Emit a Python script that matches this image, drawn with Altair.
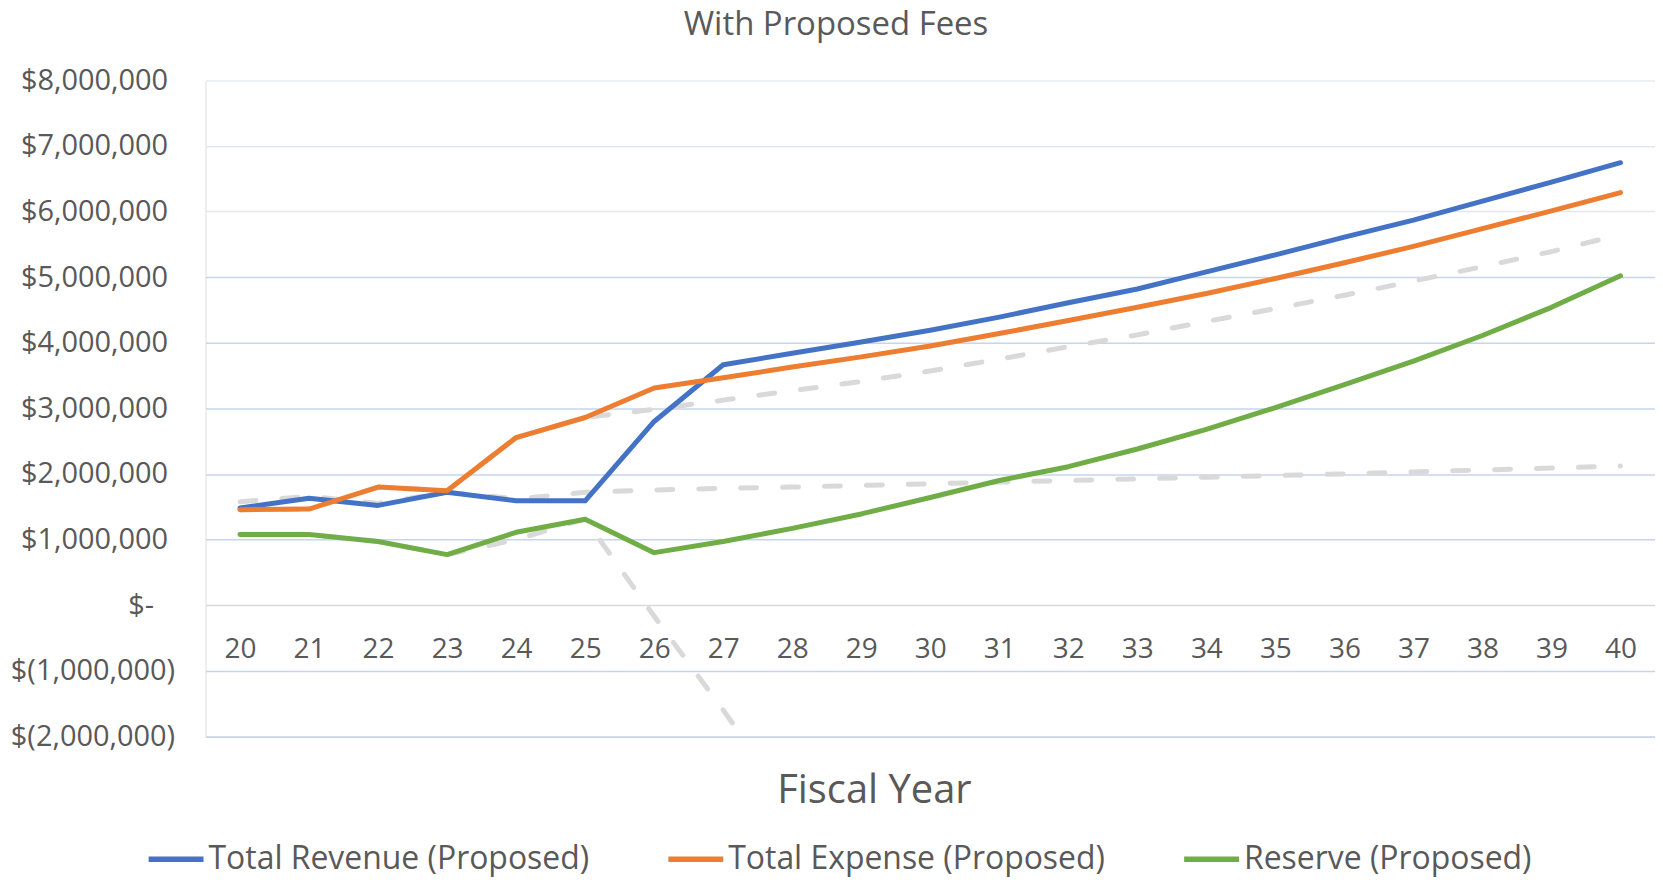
import altair as alt
import pandas as pd

# ---- data (millions of dollars) ----
years = list(range(20, 41))

rev_prop = [1.48, 1.63, 1.52, 1.72, 1.59, 1.59, 2.80, 3.665, 3.84, 4.01, 4.19,
            4.39, 4.61, 4.82, 5.08, 5.34, 5.61, 5.87, 6.16, 6.45, 6.745]
exp_prop = [1.455, 1.465, 1.80, 1.745, 2.555, 2.86, 3.31, 3.465, 3.63, 3.785, 3.95,
            4.14, 4.34, 4.54, 4.75, 4.98, 5.22, 5.47, 5.74, 6.01, 6.29]
res_prop = [1.075, 1.075, 0.97, 0.77, 1.11, 1.31, 0.80, 0.97, 1.17, 1.39, 1.64,
            1.90, 2.11, 2.38, 2.68, 3.01, 3.36, 3.72, 4.11, 4.54, 5.02]

rev_cur = [1.575, 1.66, 1.55, 1.72, 1.62, 1.72, 1.755, 1.78, 1.80, 1.825, 1.85,
           1.875, 1.90, 1.925, 1.95, 1.975, 2.00, 2.03, 2.06, 2.09, 2.12]
exp_cur = [1.455, 1.465, 1.80, 1.745, 2.555, 2.86, 2.985, 3.125, 3.27, 3.41, 3.57,
           3.75, 3.94, 4.12, 4.325, 4.52, 4.725, 4.94, 5.16, 5.39, 5.65]
res_cur = [1.075, 1.075, 0.97, 0.77, 1.00, 1.31, -0.17, -1.60, -3.10]

prop_names = ["Total Revenue (Proposed)", "Total Expense (Proposed)", "Reserve (Proposed)"]
prop_colors = ["#4472C4", "#ED7D31", "#70AD47"]
cur_names = ["Total Revenue (Current)", "Total Expense (Current)", "Reserve (Current)"]

y_ticks = [-2e6, -1e6, 0, 1e6, 2e6, 3e6, 4e6, 5e6, 6e6, 7e6, 8e6]


def rows(names, series):
    out = []
    for n, vals in zip(names, series):
        for yr, v in zip(years, vals):
            out.append({"year": str(yr), "series": n, "value": v * 1e6})
    return out


df_prop = pd.DataFrame(rows(prop_names, [rev_prop, exp_prop, res_prop]))
df_cur = pd.DataFrame(rows(cur_names, [rev_cur, exp_cur, res_cur]))

FONT = "Open Sans"
TXT = "#595959"
W, H = 1453, 657.5
zero_off = -H * 2 / 10

label_expr = (
    "datum.value == 0 ? '$-' : "
    "(datum.value < 0 ? '$(' + format(-datum.value, ',') + ')' : "
    "'$' + format(datum.value, ','))"
)

x_enc = alt.X(
    "year:O",
    sort=[str(y) for y in years],
    axis=alt.Axis(
        title="Fiscal Year",
        labelAngle=0,
        labelFont=FONT,
        labelFontSize=28,
        labelColor=TXT,
        labelBaseline="middle",
        labelPadding=45,
        ticks=False,
        tickSize=0,
        domain=False,
        offset=zero_off,
        titleFont=FONT,
        titleFontSize=40,
        titleFontWeight="normal",
        titleColor=TXT,
        titleX=670,
        titleY=185.5,
        titleAlign="center",
        titleBaseline="middle",
    ),
)

y_enc = alt.Y(
    "value:Q",
    scale=alt.Scale(domain=[-2e6, 8e6], nice=False, zero=False),
    axis=alt.Axis(
        title=None,
        values=y_ticks,
        labelExpr=label_expr,
        labelFont=FONT,
        labelFontSize=29,
        labelColor=TXT,
        labelPadding={"condition": [
            {"test": "datum.value < 0", "value": 31},
            {"test": "datum.value === 0", "value": 52},
        ], "value": 38},
        ticks=False,
        domain=False,
        grid=True,
        gridWidth=1.5,
        gridColor={"condition": [
            {"test": "datum.value === 0", "value": "#D9D9D9"},
            {"test": "datum.value >= 8000000", "value": "#EDF1F9"},
            {"test": "datum.value >= 6000000", "value": "#DFE7F5"},
        ], "value": "#C6D4EC"},
    ),
)

dashed = alt.Chart(df_cur).mark_line(
    strokeWidth=5, strokeDash=[16, 26], strokeCap="round", strokeJoin="round",
    color="#D9D9D9", clip=True,
).encode(x=x_enc, y=y_enc, detail="series:N")

solid = alt.Chart(df_prop).mark_line(
    strokeWidth=5, strokeCap="round", strokeJoin="round", clip=True,
).encode(
    x=x_enc,
    y=y_enc,
    color=alt.Color(
        "series:N",
        scale=alt.Scale(domain=prop_names, range=prop_colors),
        sort=prop_names,
        legend=alt.Legend(
            title=None,
            orient="none",
            legendX=-60,
            legendY=750,
            direction="horizontal",
            symbolType="stroke",
            symbolSize=3025,
            symbolStrokeWidth=5.5,
            labelFont=FONT,
            labelFontSize=32,
            labelColor=TXT,
            labelLimit=1000,
            labelOffset=2,
            columnPadding=68,
            padding=0,
        ),
    ),
)

chart = alt.layer(dashed, solid).properties(
    width=W,
    height=H,
    title=alt.TitleParams(
        "With Proposed Fees",
        font=FONT,
        fontSize=33,
        fontWeight="normal",
        color=TXT,
        anchor="middle",
        frame="group",
        dx=-94.5,
        dy=29.5,
        offset=28,
        baseline="alphabetic",
    ),
    autosize=alt.AutoSizeParams(type="none"),
    padding={"left": 198, "top": 71.5, "right": 0, "bottom": 140},
).configure_view(stroke=None).configure(background="white")

chart.save("out.html", embed_options={"renderer": "svg", "actions": False})
